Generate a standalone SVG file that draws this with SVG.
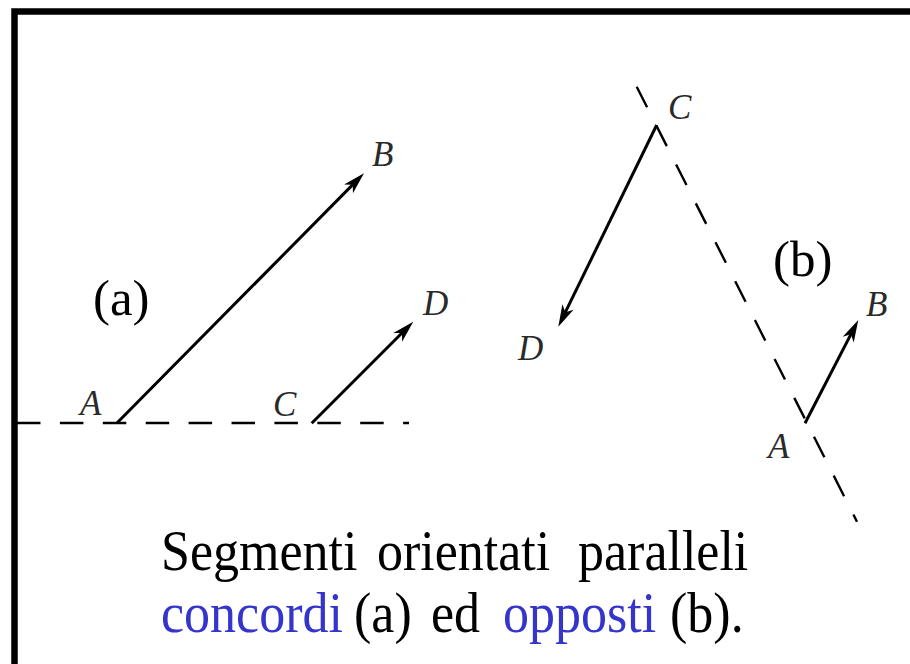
<svg xmlns="http://www.w3.org/2000/svg" width="910" height="664" viewBox="0 0 910 664">
  <style>
    .lbl { font-family: "Liberation Serif", "Times New Roman", serif; font-style: italic; font-size: 35px; fill: #2a2a2a; }
    .tag { font-family: "Liberation Serif", "Times New Roman", serif; font-size: 51px; fill: #000; }
    .cap { font-family: "Liberation Serif", "Times New Roman", serif; font-size: 52px; fill: #000; }
    .blue { fill: #3535CC; }
    .vec { stroke: #000; stroke-width: 3; fill: none; marker-end: url(#ah); }
    .dash { stroke: #000; stroke-width: 2.4; fill: none; }
  </style>
  <defs>
    <marker id="ah" markerUnits="userSpaceOnUse" viewBox="-24 -8 26 16" refX="-10" refY="0" markerWidth="26" markerHeight="16" orient="auto">
      <path d="M0,0 L-22,-6.2 L-16,0 L-22,6.2 Z" fill="#000"/>
    </marker>
  </defs>
  <rect width="910" height="664" fill="#fff"/>
  <path d="M14.5,664 V11.5 H910" stroke="#000" stroke-width="6.5" fill="none"/>

  <g id="connectors">
    <line class="dash" x1="17" y1="423" x2="409" y2="423" stroke-dasharray="23.5 19.4"/>
    <line class="dash" x1="636.7" y1="86.7" x2="857" y2="521.7" stroke-dasharray="23 20.6"/>
    <line class="vec" x1="116.7" y1="423.3" x2="356.97" y2="180.41"/>
    <line class="vec" x1="311.7" y1="423.3" x2="406.2" y2="328.8"/>
    <line class="vec" x1="656.7" y1="125" x2="562.7" y2="317.7"/>
    <line class="vec" x1="805" y1="423.3" x2="853.7" y2="328.9"/>
  </g>

  <g id="panel-a">
    <text class="tag" x="93" y="315">(a)</text>
    <g id="a-A"><text class="lbl" x="80" y="415">A</text></g>
    <g id="a-B"><text class="lbl" x="372" y="166">B</text></g>
    <g id="a-C"><text class="lbl" x="273" y="416">C</text></g>
    <g id="a-D"><text class="lbl" x="423" y="315">D</text></g>
  </g>

  <g id="panel-b">
    <text class="tag" x="773" y="276">(b)</text>
    <g id="b-C"><text class="lbl" x="668" y="119">C</text></g>
    <g id="b-D"><text class="lbl" x="518" y="360">D</text></g>
    <g id="b-A"><text class="lbl" x="768" y="458">A</text></g>
    <g id="b-B"><text class="lbl" x="866" y="316">B</text></g>
  </g>

  <g id="caption">
    <text class="cap" transform="translate(0,570) scale(1,1.1)"><tspan x="161">Segmenti</tspan><tspan x="377">orientati</tspan><tspan x="578">paralleli</tspan></text>
    <text class="cap" transform="translate(0,632) scale(1,1.1)"><tspan x="161" class="blue">concordi</tspan><tspan x="354">(a)</tspan><tspan x="431">ed</tspan><tspan x="503" class="blue">opposti</tspan><tspan x="670">(b).</tspan></text>
  </g>
</svg>
